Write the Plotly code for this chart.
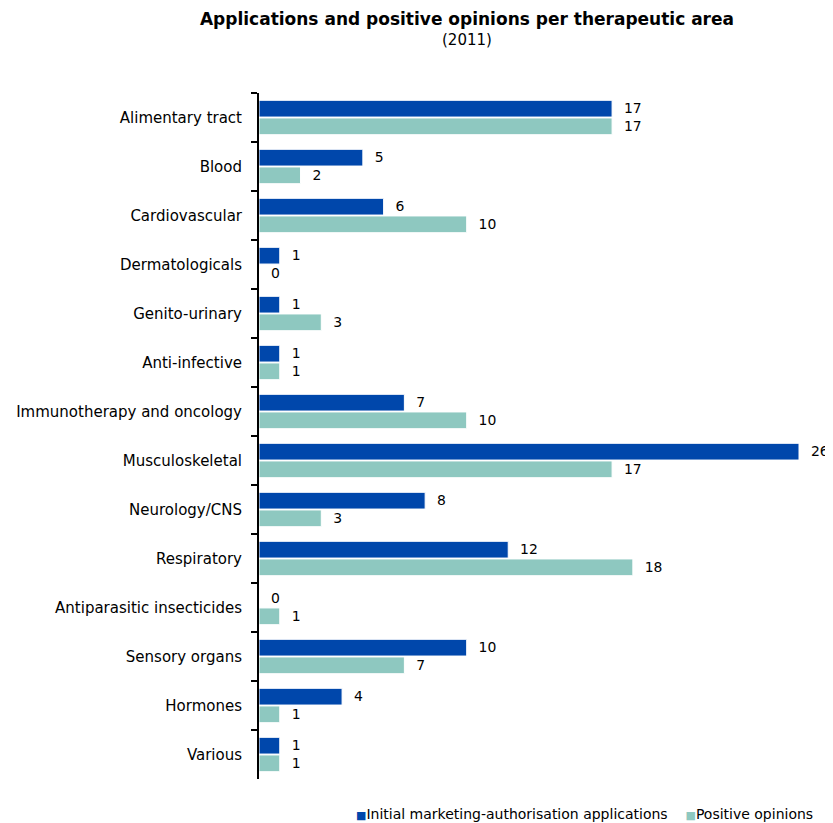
import plotly.graph_objects as go

# Therapeutic areas and counts (2011)
areas = [
    "Alimentary tract", "Blood", "Cardiovascular", "Dermatologicals",
    "Genito-urinary", "Anti-infective", "Immunotherapy and oncology",
    "Musculoskeletal", "Neurology/CNS", "Respiratory",
    "Antiparasitic insecticides", "Sensory organs", "Hormones", "Various",
]
applications = [17, 5, 6, 1, 1, 1, 7, 26, 8, 12, 0, 10, 4, 1]
positive_opinions = [17, 2, 10, 0, 3, 1, 10, 17, 3, 18, 1, 7, 1, 1]

blue = "#0047AB"
teal = "#8EC8C0"
pad = "\u00a0\u00a0"

fig = go.Figure()
fig.add_trace(go.Bar(
    y=areas, x=applications, orientation="h",
    name="Initial marketing-authorisation applications",
    marker=dict(color=blue, line=dict(color="white", width=1)),
    text=applications, texttemplate=pad + "%{x}",
    textposition="outside", cliponaxis=False,
    textfont=dict(size=15, color="black"),
))
fig.add_trace(go.Bar(
    y=areas, x=positive_opinions, orientation="h",
    name="Positive opinions",
    marker=dict(color=teal, line=dict(color="white", width=1)),
    text=positive_opinions, texttemplate=pad + "%{x}",
    textposition="outside", cliponaxis=False,
    textfont=dict(size=15, color="black"),
))

# legend drawn as text so the squares sit next to the labels
legend_text = (
    f"<span style='color:{blue};font-size:11px'>■</span>Initial marketing-authorisation applications"
    f"\u00a0\u00a0\u00a0\u00a0<span style='color:{teal};font-size:11px'>■</span>Positive opinions"
)

fig.update_layout(
    width=833, height=815,
    barmode="group", bargap=0.28, bargroupgap=0.05,
    showlegend=False,
    plot_bgcolor="white", paper_bgcolor="white",
    font=dict(family="DejaVu Sans, Verdana, sans-serif", size=14, color="black"),
    margin=dict(l=251, r=42, t=85, b=44),
    title=dict(
        text="<b>Applications and positive opinions per therapeutic area</b>",
        x=0.551, xanchor="center", y=0.9865, yanchor="middle",
        font=dict(size=17),
    ),
    xaxis=dict(range=[0, 26], visible=False, showgrid=False),
    yaxis=dict(
        autorange="reversed", showline=True, linecolor="black", linewidth=2,
        ticks="outside", ticklen=6, tickcolor="black", tickwidth=2,
        tickson="boundaries", ticklabelstandoff=12,
        tickfont=dict(size=15), automargin=False,
    ),
    annotations=[
        dict(
            text="(2011)", showarrow=False,
            xref="paper", yref="paper", x=0.385, y=1.0773,
            xanchor="center", yanchor="middle", font=dict(size=15),
        ),
        dict(
            text=legend_text, showarrow=False,
            xref="paper", yref="paper", x=1.0296, y=-0.051,
            xanchor="right", yanchor="middle", font=dict(size=14),
        ),
    ],
)

fig.write_html("out.html")
